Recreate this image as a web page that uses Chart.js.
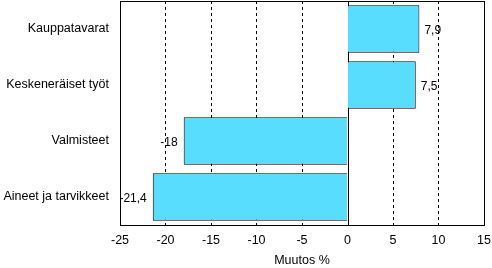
<!DOCTYPE html>
<html><head><meta charset="utf-8">
<script src="https://cdn.jsdelivr.net/npm/chart.js@4/dist/chart.umd.min.js"></script>
<style>html,body{margin:0;padding:0;background:#fff}</style>
</head><body><canvas id="c" width="492" height="268" style="width:492px;height:268px"></canvas>
<script>
const categories = ["Kauppatavarat", "Keskeneräiset työt", "Valmisteet", "Aineet ja tarvikkeet"];
const values = [7.9, 7.5, -18, -21.4];
const valueLabels = ["7,9", "7,5", "-18", "-21,4"];
const xTicks = [-25, -20, -15, -10, -5, 0, 5, 10, 15];
const axisTitle = "Muutos %";

const FONT = "'Liberation Sans', Arial, sans-serif";
const labelPlugin = {
  id: 'vl',
  afterDatasetsDraw(chart) {
    const ctx = chart.ctx;
    const meta = chart.getDatasetMeta(0);
    ctx.save();
    ctx.font = "12px " + FONT;
    ctx.fillStyle = "#000";
    ctx.textBaseline = "middle";
    meta.data.forEach((bar, i) => {
      const v = values[i];
      if (v >= 0) { ctx.textAlign = "left"; ctx.fillText(valueLabels[i], bar.x + 5, bar.y + 2); }
      else { ctx.textAlign = "right"; ctx.fillText(valueLabels[i], bar.x - 6, bar.y + 2); }
    });
    ctx.restore();
  }
};
const borderPlugin = {
  id: 'bd',
  beforeDatasetsDraw(chart) {
    const a = chart.chartArea, ctx = chart.ctx;
    const x0 = Math.round(chart.scales.x.getPixelForValue(0)) + 0.5;
    ctx.save();
    ctx.strokeStyle = "#000"; ctx.lineWidth = 1;
    ctx.beginPath(); ctx.moveTo(x0, a.top); ctx.lineTo(x0, a.bottom); ctx.stroke();
    ctx.restore();
  },
  afterDraw(chart) {
    const a = chart.chartArea, ctx = chart.ctx;
    ctx.save();
    ctx.strokeStyle = "#000"; ctx.lineWidth = 1;
    ctx.strokeRect(Math.round(a.left) + 0.5, Math.round(a.top) + 0.5, Math.round(a.right - a.left), Math.round(a.bottom - a.top));
    ctx.restore();
  }
};

const chart = new Chart(document.getElementById('c'), {
  type: 'bar',
  data: { labels: categories, datasets: [{
    data: values, backgroundColor: '#58DDFF', borderColor: '#000', borderWidth: 1,
    barPercentage: 0.85, categoryPercentage: 1.0
  }]},
  options: {
    indexAxis: 'y', responsive: false, maintainAspectRatio: false, animation: false,
    layout: { padding: { left: 0, right: 8, top: 1, bottom: 0 } },
    plugins: { legend: { display: false }, tooltip: { enabled: false } },
    scales: {
      x: {
        min: -25, max: 15,
        afterBuildTicks(s) { s.ticks = xTicks.map(v => ({ value: v })); },
        grid: {
          drawTicks: false,
          color: (c) => (c.tick && (c.tick.value === 0 || c.tick.value === -25 || c.tick.value === 15)) ? 'rgba(0,0,0,0)' : '#000',
          lineWidth: 1
        },
        border: { display: false, dash: [3, 3] },
        ticks: { color: '#000', font: { family: FONT, size: 12.5 }, padding: 8, maxRotation: 0,
          callback: (v) => String(v) },
        title: { display: true, text: axisTitle, color: '#000', font: { family: FONT, size: 12.5 }, padding: { top: 6, bottom: 0 } },
        afterFit(s) { s.height = 43; s.paddingLeft = 0; s.paddingRight = 0; }
      },
      y: {
        grid: { display: false, drawTicks: false },
        border: { display: false },
        ticks: { color: '#000', font: { family: FONT, size: 12.5 }, padding: 11 },
        afterFit(s) { s.width = 120; s.paddingTop = 0; s.paddingBottom = 0; }
      }
    }
  },
  plugins: [labelPlugin, borderPlugin]
});
</script>
</body></html>
